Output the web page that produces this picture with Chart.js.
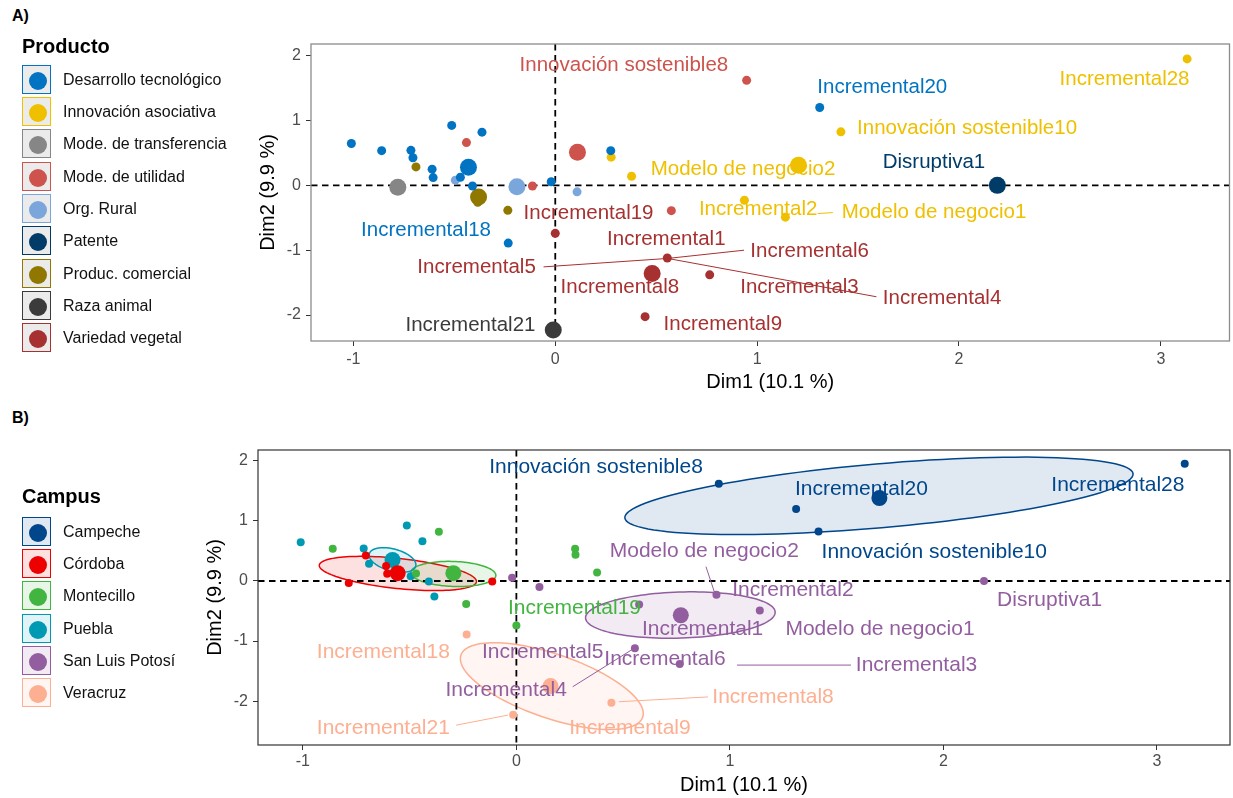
<!DOCTYPE html>
<html><head><meta charset="utf-8">
<script src="https://cdn.jsdelivr.net/npm/chart.js@4.4.0/dist/chart.umd.min.js"></script>
<style>
html,body{margin:0;padding:0;background:#fff;width:1233px;height:798px;overflow:hidden;font-family:"Liberation Sans",Arial,sans-serif;position:relative;}
canvas{position:absolute;left:0;}
#cA{top:0;}
#cB{top:398px;}
.tag{position:absolute;left:12px;font-weight:bold;font-size:16px;line-height:20px;color:#000;}
.ltitle{position:absolute;left:22px;font-weight:bold;font-size:20px;line-height:24px;color:#000;}
.litem{position:absolute;left:22px;height:30px;white-space:nowrap;}
.lbox{position:absolute;left:0;top:0;width:27px;height:27px;border:1.5px solid;}
.ldot{position:absolute;left:6px;top:6px;width:18px;height:18px;border-radius:50%;}
.ltext{position:absolute;left:41px;top:0;line-height:30px;font-size:16px;color:#111;}
</style></head>
<body>
<div class="tag" style="top:6px">A)</div>
<div class="tag" style="top:408px">B)</div>
<canvas id="cA" width="1238" height="398"></canvas>
<canvas id="cB" width="1238" height="400"></canvas>
<div id="legA"></div><div id="legB"></div>
<script>
// ---------- data ----------
const xTicks = [-1, 0, 1, 2, 3];
const yTicks = [-2, -1, 0, 1, 2];

// individual coordinates (Dim1, Dim2)
const indX = [-1.01,-0.86,-0.715,-0.705,-0.69,-0.61,-0.605,-0.513,-0.363,-0.44,-0.47,-0.495,-0.41,-0.785,-0.113,-0.02,0.108,0.275,0.277,-0.235,-0.233,0.0,-0.015,0.948,1.31,1.415,3.13,0.378,2.19,0.937,1.14,0.575,0.555,0.765,0.445,-0.384];
const indY = [0.645,0.535,0.54,0.425,0.285,0.25,0.12,0.925,0.82,0.66,0.125,0.08,-0.01,-0.035,-0.01,0.055,-0.1,0.535,0.435,-0.385,-0.89,-0.74,-2.225,1.62,1.2,0.825,1.95,0.14,0.0,-0.23,-0.49,-0.39,-1.12,-1.38,-2.025,-0.26];

const productoOf = ["Desarrollo tecnológico","Desarrollo tecnológico","Desarrollo tecnológico","Desarrollo tecnológico","Produc. comercial","Desarrollo tecnológico","Desarrollo tecnológico","Desarrollo tecnológico","Desarrollo tecnológico","Mode. de utilidad","Desarrollo tecnológico","Org. Rural","Desarrollo tecnológico","Mode. de transferencia","Mode. de utilidad","Desarrollo tecnológico","Org. Rural","Desarrollo tecnológico","Innovación asociativa","Produc. comercial","Desarrollo tecnológico","Variedad vegetal","Raza animal","Mode. de utilidad","Desarrollo tecnológico","Innovación asociativa","Innovación asociativa","Innovación asociativa","Patente","Innovación asociativa","Innovación asociativa","Mode. de utilidad","Variedad vegetal","Variedad vegetal","Variedad vegetal","Produc. comercial"];
const campusOf = ["Puebla","Montecillo","Puebla","Córdoba","Puebla","Córdoba","Córdoba","Puebla","Montecillo","Puebla","Montecillo","Puebla","Puebla","Córdoba","Córdoba","San Luis Potosí","San Luis Potosí","Montecillo","Montecillo","Montecillo","Veracruz","Montecillo","Veracruz","Campeche","Campeche","Campeche","Campeche","Montecillo","San Luis Potosí","San Luis Potosí","San Luis Potosí","San Luis Potosí","San Luis Potosí","San Luis Potosí","Veracruz","Puebla"];

const productoCats = ["Desarrollo tecnológico","Innovación asociativa","Mode. de transferencia","Mode. de utilidad","Org. Rural","Patente","Produc. comercial","Raza animal","Variedad vegetal"];
const productoColors = ["#0073C2","#EFC000","#868686","#CD534C","#7AA6DC","#003C67","#8F7700","#3B3B3B","#A73030"];
const productoCentX = [-0.43,1.205,-0.78,0.11,-0.19,2.19,-0.38,-0.01,0.48];
const productoCentY = [0.28,0.31,-0.03,0.51,-0.02,0.0,-0.18,-2.23,-1.36];

const campusCats = ["Campeche","Córdoba","Montecillo","Puebla","San Luis Potosí","Veracruz"];
const campusColors = ["#00468B","#ED0000","#42B540","#0099B4","#925E9F","#FDAF91"];
const campusCentX = [1.70,-0.556,-0.295,-0.58,0.77,0.16];
const campusCentY = [1.38,0.13,0.13,0.35,-0.57,-1.75];

// concentration ellipses per campus (centre, semi-axis vectors, data units)
const ellCX = [1.698,-0.555,-0.295,-0.58,0.768,0.166];
const ellCY = [1.417,0.125,0.117,0.35,-0.567,-1.75];
const ellUX = [1.19,0.368,0.199,0.1087,0.444,0.4257];
const ellUY = [0.367,-0.138,-0.025,-0.103,0.05,-0.5167];
const ellVX = [0.0129,-0.00735,-0.002,-0.0133,0.0057,-0.0483];
const ellVY = [-0.53,-0.249,-0.208,-0.177,-0.383,-0.505];

// labels panel A
const labA_text = ["Innovación sostenible8","Incremental20","Incremental28","Innovación sostenible10","Modelo de negocio2","Disruptiva1","Incremental19","Incremental2","Modelo de negocio1","Incremental18","Incremental1","Incremental6","Incremental5","Incremental8","Incremental3","Incremental4","Incremental9","Incremental21"];
const labA_x = [0.34,1.62,2.82,2.04,0.93,1.876,0.165,1.005,1.876,-0.64,0.55,1.26,-0.39,0.32,1.21,1.916,0.83,-0.42];
const labA_y = [1.85,1.51,1.63,0.88,0.25,0.35,-0.43,-0.37,-0.42,-0.70,-0.83,-1.01,-1.27,-1.58,-1.58,-1.74,-2.15,-2.16];
const labA_grp = ["Mode. de utilidad","Desarrollo tecnológico","Innovación asociativa","Innovación asociativa","Innovación asociativa","Patente","Variedad vegetal","Innovación asociativa","Innovación asociativa","Desarrollo tecnológico","Variedad vegetal","Variedad vegetal","Variedad vegetal","Variedad vegetal","Variedad vegetal","Variedad vegetal","Variedad vegetal","Raza animal"];
// label segments panel A: x1,y1,x2,y2
const segA_x1 = [-0.058,0.557,0.557,1.30];
const segA_y1 = [-1.257,-1.127,-1.127,-0.435];
const segA_x2 = [0.557,0.935,1.591,1.375];
const segA_y2 = [-1.127,-1.0,-1.718,-0.42];
const segA_grp = ["Variedad vegetal","Variedad vegetal","Variedad vegetal","Innovación asociativa"];

// labels panel B
const labB_text = ["Innovación sostenible8","Incremental20","Incremental28","Innovación sostenible10","Modelo de negocio2","Incremental2","Disruptiva1","Incremental19","Incremental1","Modelo de negocio1","Incremental18","Incremental5","Incremental6","Incremental3","Incremental4","Incremental8","Incremental21","Incremental9"];
const labB_x = [0.373,1.616,2.817,1.957,0.88,1.295,2.497,0.272,0.872,1.703,-0.623,0.123,0.696,1.874,-0.048,1.202,-0.623,0.532];
const labB_y = [1.89,1.53,1.59,0.475,0.50,-0.158,-0.32,-0.46,-0.80,-0.80,-1.19,-1.19,-1.30,-1.41,-1.825,-1.94,-2.45,-2.45];
const labB_grp = ["Campeche","Campeche","Campeche","Campeche","San Luis Potosí","San Luis Potosí","San Luis Potosí","Montecillo","San Luis Potosí","San Luis Potosí","Veracruz","San Luis Potosí","San Luis Potosí","San Luis Potosí","San Luis Potosí","Veracruz","Veracruz","Veracruz"];
const segB_x1 = [0.888,0.264,1.033,0.48,-0.282];
const segB_y1 = [0.238,-1.76,-1.40,-2.01,-2.40];
const segB_x2 = [0.932,0.553,1.567,0.897,-0.04];
const segB_y2 = [-0.233,-1.117,-1.40,-1.93,-2.233];
const segB_grp = ["San Luis Potosí","San Luis Potosí","San Luis Potosí","Veracruz","Veracruz"];

// ---------- helpers ----------
const FONT = '"Liberation Sans", Arial, sans-serif';
function hexA(hex, a){const n=parseInt(hex.slice(1),16);return `rgba(${n>>16&255},${n>>8&255},${n&255},${a})`;}

function buildDatasets(cats, colors, memberOf, cx, cy, rs, rb){
  const ds=[];
  cats.forEach((c,gi)=>{
    const pts=[];
    indX.forEach((x,i)=>{ if(memberOf[i]===c) pts.push({x:x,y:indY[i]}); });
    ds.push({label:c,data:pts,backgroundColor:colors[gi],borderWidth:0,pointRadius:rs,pointHoverRadius:rs});
  });
  cats.forEach((c,gi)=>{
    ds.push({label:c+' (centro)',data:[{x:cx[gi],y:cy[gi]}],backgroundColor:colors[gi],borderWidth:0,pointRadius:rb,pointHoverRadius:rb});
  });
  return ds;
}

const annot = {
  id:'annot',
  beforeDatasetsDraw(chart,args,o){
    const {ctx,chartArea:a,scales:{x,y}}=chart;
    ctx.save();
    ctx.beginPath();ctx.rect(a.left,a.top,a.right-a.left,a.bottom-a.top);ctx.clip();
    if(o.ell){
      o.ell.cx.forEach((cx,i)=>{
        ctx.beginPath();
        for(let k=0;k<=120;k++){
          const t=k/120*Math.PI*2;
          const dx=cx+o.ell.ux[i]*Math.cos(t)+o.ell.vx[i]*Math.sin(t);
          const dy=o.ell.cy[i]+o.ell.uy[i]*Math.cos(t)+o.ell.vy[i]*Math.sin(t);
          const px=x.getPixelForValue(dx), py=y.getPixelForValue(dy);
          if(k===0)ctx.moveTo(px,py);else ctx.lineTo(px,py);
        }
        ctx.closePath();
        ctx.fillStyle=hexA(o.ell.colors[i],0.12);ctx.fill();
        ctx.strokeStyle=o.ell.colors[i];ctx.lineWidth=1.5;ctx.stroke();
      });
    }
    ctx.setLineDash([6.5,4.5]);ctx.strokeStyle='#000';ctx.lineWidth=1.8;
    const x0=x.getPixelForValue(0), y0=y.getPixelForValue(0);
    ctx.beginPath();ctx.moveTo(a.left,y0);ctx.lineTo(a.right,y0);ctx.stroke();
    ctx.beginPath();ctx.moveTo(x0,a.top);ctx.lineTo(x0,a.bottom);ctx.stroke();
    ctx.restore();
  },
  afterDatasetsDraw(chart,args,o){
    const {ctx,scales:{x,y}}=chart;
    ctx.save();
    o.seg.x1.forEach((v,i)=>{
      ctx.strokeStyle=o.colorOf(o.seg.grp[i]);ctx.lineWidth=1;
      ctx.beginPath();
      ctx.moveTo(x.getPixelForValue(v),y.getPixelForValue(o.seg.y1[i]));
      ctx.lineTo(x.getPixelForValue(o.seg.x2[i]),y.getPixelForValue(o.seg.y2[i]));
      ctx.stroke();
    });
    ctx.font=o.labSize+'px '+FONT;ctx.textAlign='center';ctx.textBaseline='middle';
    o.lab.text.forEach((t,i)=>{
      ctx.fillStyle=o.colorOf(o.lab.grp[i]);
      ctx.fillText(t,x.getPixelForValue(o.lab.x[i]),y.getPixelForValue(o.lab.y[i]));
    });
    ctx.restore();
  },
  afterDraw(chart,args,o){
    const {ctx,chartArea:a}=chart;
    ctx.save();ctx.strokeStyle=o.border;ctx.lineWidth=o.borderW;
    ctx.strokeRect(a.left,a.top,a.right-a.left,a.bottom-a.top);
    ctx.restore();
  }
};

function axes(xmin,xmax,ymin,ymax,xH,yW,xTickPad,xTitlePadB){
  const common={
    grid:{drawOnChartArea:false,drawTicks:true,tickLength:5,tickColor:'#333',tickWidth:1},
    border:{display:false}
  };
  return {
    x:Object.assign({},common,{type:'linear',min:xmin,max:xmax,
      afterBuildTicks:s=>{s.ticks=xTicks.map(v=>({value:v}));},
      afterFit:s=>{s.height=xH;},
      ticks:{color:'#4d4d4d',font:{size:16,family:FONT},padding:xTickPad,maxRotation:0,autoSkip:false,callback:v=>String(v)},
      title:{display:true,text:'Dim1 (10.1 %)',color:'#000',font:{size:20,family:FONT},padding:{top:0,bottom:xTitlePadB}}}),
    y:Object.assign({},common,{type:'linear',min:ymin,max:ymax,
      afterBuildTicks:s=>{s.ticks=yTicks.map(v=>({value:v}));},
      afterFit:s=>{s.width=yW;},
      ticks:{color:'#4d4d4d',font:{size:16,family:FONT},padding:5,autoSkip:false,callback:v=>String(v)},
      title:{display:true,text:'Dim2 (9.9 %)',color:'#000',font:{size:20,family:FONT},padding:{top:6,bottom:0}}})
  };
}

// ---------- chart A ----------
new Chart(document.getElementById('cA'),{
  type:'scatter',
  data:{datasets:buildDatasets(productoCats,productoColors,productoOf,productoCentX,productoCentY,4.5,8.5)},
  options:{
    responsive:false,animation:false,devicePixelRatio:1,events:[],
    layout:{padding:{left:250,top:44,right:0,bottom:0}},
    scales:axes(-1.21,3.34,-2.4,2.18,57,61,4,4),
    plugins:{legend:{display:false},tooltip:{enabled:false},
      annot:{ell:null,border:'#8c8c8c',borderW:1.3,labSize:20.5,
        colorOf:g=>productoColors[productoCats.indexOf(g)],
        lab:{text:labA_text,x:labA_x,y:labA_y,grp:labA_grp},
        seg:{x1:segA_x1,y1:segA_y1,x2:segA_x2,y2:segA_y2,grp:segA_grp}}}
  },
  plugins:[annot]
});

// ---------- chart B ----------
new Chart(document.getElementById('cB'),{
  type:'scatter',
  data:{datasets:buildDatasets(campusCats,campusColors,campusOf,campusCentX,campusCentY,4,8)},
  options:{
    responsive:false,animation:false,devicePixelRatio:1,events:[],
    layout:{padding:{left:197,top:52,right:0,bottom:0}},
    scales:axes(-1.21,3.342,-2.73,2.18,53,61,2,1),
    plugins:{legend:{display:false},tooltip:{enabled:false},
      annot:{ell:{cx:ellCX,cy:ellCY,ux:ellUX,uy:ellUY,vx:ellVX,vy:ellVY,colors:campusColors},
        border:'#333',borderW:1.2,labSize:21,
        colorOf:g=>campusColors[campusCats.indexOf(g)],
        lab:{text:labB_text,x:labB_x,y:labB_y,grp:labB_grp},
        seg:{x1:segB_x1,y1:segB_y1,x2:segB_x2,y2:segB_y2,grp:segB_grp}}}
  },
  plugins:[annot]
});

// ---------- legends ----------
function buildLegend(id,title,titleCenter,firstCenter,step,cats,colors,fillFn){
  const el=document.getElementById(id);
  const t=document.createElement('div');t.className='ltitle';t.textContent=title;
  t.style.top=(titleCenter-12)+'px';el.appendChild(t);
  cats.forEach((c,i)=>{
    const it=document.createElement('div');it.className='litem';
    it.style.top=(firstCenter+step*i-15)+'px';
    const b=document.createElement('div');b.className='lbox';
    b.style.borderColor=colors[i];b.style.background=fillFn(colors[i]);
    const d=document.createElement('div');d.className='ldot';d.style.background=colors[i];
    b.appendChild(d);
    const tx=document.createElement('div');tx.className='ltext';tx.textContent=c;
    it.appendChild(b);it.appendChild(tx);el.appendChild(it);
  });
}
buildLegend('legA','Producto',46,79.8,32.3,productoCats,productoColors,()=> '#ebebeb');
buildLegend('legB','Campus',496,532,32.2,campusCats,campusColors,c=>hexA(c,0.12));
</script>
</body></html>
